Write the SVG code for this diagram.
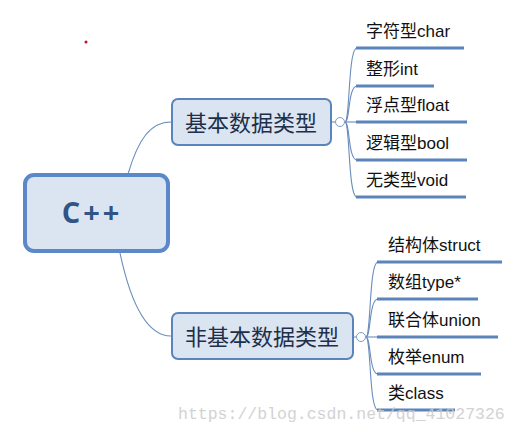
<svg xmlns="http://www.w3.org/2000/svg" width="519" height="433" viewBox="0 0 519 433">
<style>
.bg{fill:#ffffff}
.root{fill:#dbe5f1;stroke:#5a88c8;stroke-width:4}
.branch{fill:#dbe5f1;stroke:#5b84bb;stroke-width:2}
.rt{font-family:"Open Sans","Liberation Sans",sans-serif;font-weight:bold;font-size:29px;fill:#2f5485;letter-spacing:3px}
.bt{font-family:"Noto Sans CJK SC","Liberation Sans",sans-serif;font-size:22px;fill:#1f2f4a}
.lt{font-family:"Liberation Sans","Noto Sans CJK SC",sans-serif;font-size:17px;fill:#111}
.leafline{stroke:#5b84bb;stroke-width:3;fill:none}
.con{stroke:#6b8dbd;stroke-width:1.1;fill:none}
.col{fill:#ffffff;stroke:#7b9cc8;stroke-width:1}
.wm{font-family:"Liberation Mono",monospace;font-size:16.5px;fill:#cccccc;opacity:0.85}
</style>
<rect class="bg" x="0" y="0" width="519" height="433"/>
<circle cx="86" cy="42" r="1.5" fill="#c0102a"/>
<g id="connectors">
<path class="con" d="M128,174 C138,140 150,122 171,122"/>
<path class="con" d="M120,253 C130,300 145,336 171,336"/>
<path class="con" d="M332,122 L335,122"/>
<path class="con" d="M354,337 L356,337"/>
<path class="con" d="M345,122 C350,122 348,48 357,48"/>
<path class="con" d="M345,122 C350,122 348,86 357,86"/>
<path class="con" d="M345,122 L357,122"/>
<path class="con" d="M345,122 C350,122 348,160 357,160"/>
<path class="con" d="M345,122 C350,122 348,197 357,197"/>
<path class="con" d="M366,337 C371,337 369,262 378,262"/>
<path class="con" d="M366,337 C371,337 369,299 378,299"/>
<path class="con" d="M366,337 L378,337"/>
<path class="con" d="M366,337 C371,337 369,374 378,374"/>
<path class="con" d="M366,337 C371,337 369,410 378,410"/>
</g>
<g id="root">
<rect class="root" x="25" y="175" width="143" height="76" rx="9"/>
<text class="rt" x="92" y="223" text-anchor="middle">C++</text>
</g>
<g id="basic">
<rect class="branch" x="172" y="99" width="159" height="46" rx="6"/>
<text class="bt" x="251" y="131" text-anchor="middle">基本数据类型</text>
<circle class="col" cx="340" cy="122" r="4.5"/>
</g>
<g id="nonbasic">
<rect class="branch" x="172" y="313" width="181" height="46" rx="6"/>
<text class="bt" x="262" y="345" text-anchor="middle">非基本数据类型</text>
<circle class="col" cx="361" cy="337" r="4.5"/>
</g>
<g id="leaf-char"><line class="leafline" x1="356" y1="48" x2="464" y2="48"/><text class="lt" x="366" y="37">字符型char</text></g>
<g id="leaf-int"><line class="leafline" x1="356" y1="86" x2="434" y2="86"/><text class="lt" x="366" y="75">整形int</text></g>
<g id="leaf-float"><line class="leafline" x1="356" y1="122" x2="467" y2="122"/><text class="lt" x="366" y="111">浮点型float</text></g>
<g id="leaf-bool"><line class="leafline" x1="356" y1="160" x2="467" y2="160"/><text class="lt" x="366" y="149">逻辑型bool</text></g>
<g id="leaf-void"><line class="leafline" x1="356" y1="197" x2="466" y2="197"/><text class="lt" x="366" y="186">无类型void</text></g>
<g id="leaf-struct"><line class="leafline" x1="377" y1="262" x2="502" y2="262"/><text class="lt" x="388" y="251">结构体struct</text></g>
<g id="leaf-type"><line class="leafline" x1="377" y1="299" x2="478" y2="299"/><text class="lt" x="388" y="288">数组type*</text></g>
<g id="leaf-union"><line class="leafline" x1="377" y1="337" x2="498" y2="337"/><text class="lt" x="388" y="326">联合体union</text></g>
<g id="leaf-enum"><line class="leafline" x1="377" y1="374" x2="481" y2="374"/><text class="lt" x="388" y="363">枚举enum</text></g>
<g id="leaf-class"><line class="leafline" x1="377" y1="410" x2="455" y2="410"/><text class="lt" x="388" y="399">类class</text></g>
<text class="wm" x="178" y="419">https://blog.csdn.net/qq_41027326</text>
</svg>
